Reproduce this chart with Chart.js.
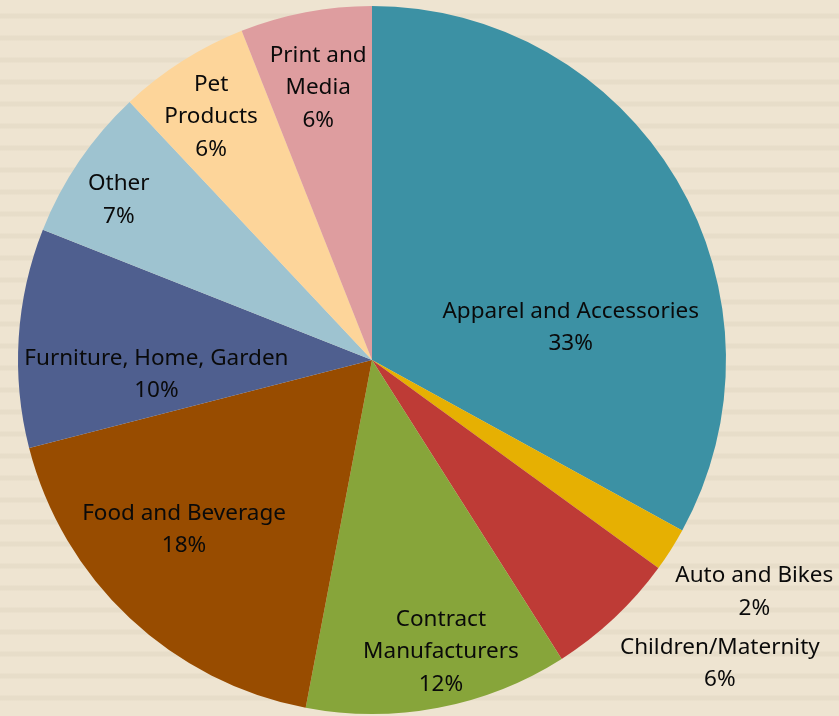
<!DOCTYPE html>
<html lang="en">
  <head>
    <meta charset="UTF-8">
    <title>Customers by Industry</title>
    <script src="https://cdn.jsdelivr.net/npm/chart.js"></script>
    <style>
      html, body { margin: 0; padding: 0; }
      body {
        width: 839px;
        height: 716px;
        overflow: hidden;
        background-color: #EEE4D1;
        background-image: repeating-linear-gradient(to bottom,
          #EEE4D1 0px, #EEE4D1 13px, #E7DDC9 14px, #E7DDC9 18px, #EEE4D1 19px, #EEE4D1 22px);
      }
      #wrap { position: relative; width: 839px; height: 716px; }
    </style>
  </head>
  <body>
    <div id="wrap">
      <canvas id="myChart"></canvas>
    </div>

    <script>
      // Slices, clockwise from 12 o'clock
      const categories = [
        "Apparel and Accessories",
        "Auto and Bikes",
        "Children/Maternity",
        "Contract Manufacturers",
        "Food and Beverage",
        "Furniture, Home, Garden",
        "Other",
        "Pet Products",
        "Print and Media"
      ];
      const shares = [33, 2, 6, 12, 18, 10, 7, 6, 6];
      const sliceColors = [
        "#3C91A4", "#E6B002", "#BE3B36", "#87A53A", "#984C00",
        "#4F5F8F", "#9EC3D0", "#FDD59A", "#DE9D9F"
      ];

      // How each label is written (line breaks as in the original)
      const labelLines = [
        ["Apparel and Accessories"],
        ["Auto and Bikes"],
        ["Children/Maternity"],
        ["Contract", "Manufacturers"],
        ["Food and Beverage"],
        ["Furniture, Home, Garden"],
        ["Other"],
        ["Pet", "Products"],
        ["Print and", "Media"]
      ];
      // label anchor: [degrees off the slice middle, fraction of radius]
      const labelAt = [
        [20.6, 0.57], [-1.4, 1.26], [-5.9, 1.30], [-2.6, 0.84], [5.2, 0.71],
        [-6.8, 0.61], [-1.5, 0.85], [-0.8, 0.83], [-0.3, 0.79]
      ];

      const FONT = '22.5px "Noto Sans", sans-serif';
      const LINE_H = 32.5;

      const sliceLabels = {
        id: "sliceLabels",
        afterDatasetsDraw(chart) {
          const ctx = chart.ctx;
          const arcs = chart.getDatasetMeta(0).data;
          ctx.save();
          ctx.font = FONT;
          ctx.fillStyle = "#0a0a0a";
          ctx.textAlign = "center";
          ctx.textBaseline = "middle";
          arcs.forEach((arc, i) => {
            const mid = (arc.startAngle + arc.endAngle) / 2 + labelAt[i][0] * Math.PI / 180;
            const r = arc.outerRadius * labelAt[i][1];
            const cx = arc.x + Math.cos(mid) * r;
            const cy = arc.y + Math.sin(mid) * r + 2.5;
            const lines = labelLines[i].concat([shares[i] + "%"]);
            const top = cy - (lines.length - 1) * LINE_H / 2;
            lines.forEach((t, k) => ctx.fillText(t, cx, top + k * LINE_H));
          });
          ctx.restore();
        }
      };

      const ctx = document.getElementById("myChart").getContext("2d");
      new Chart(ctx, {
        type: "pie",
        data: {
          labels: categories,
          datasets: [{
            data: shares,
            backgroundColor: sliceColors,
            borderWidth: 0
          }]
        },
        options: {
          responsive: true,
          maintainAspectRatio: false,
          animation: false,
          layout: { padding: { top: 6, bottom: 2, left: 0, right: 95 } },
          plugins: {
            legend: { display: false },
            tooltip: { enabled: false }
          }
        },
        plugins: [sliceLabels]
      });
    </script>
  </body>
</html>
